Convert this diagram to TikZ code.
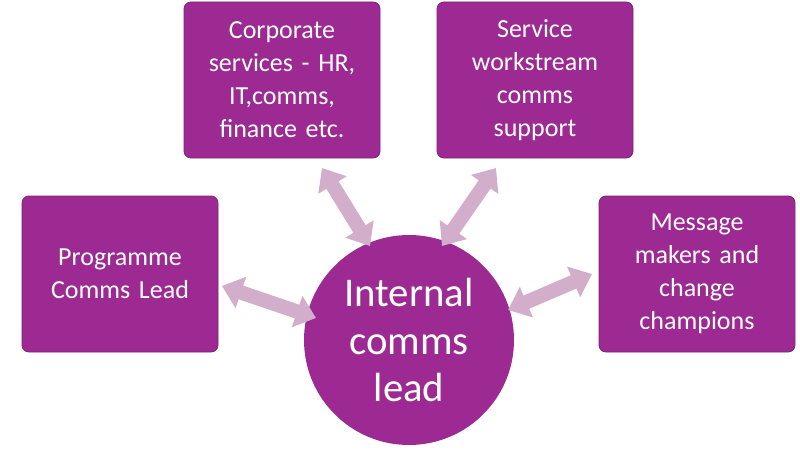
\documentclass[tikz,border=0pt]{standalone}
\usepackage{fontspec}
\setmainfont{Carlito}
\usetikzlibrary{arrows.meta}
\definecolor{plum}{HTML}{9C2A92}
\definecolor{lilac}{HTML}{D2AECB}
\begin{document}
\begin{tikzpicture}[
    box/.style={fill=plum,draw=plum!80!black,line width=0.6pt,rounded corners=5pt,
      minimum width=4.9cm,minimum height=3.9cm,text width=4.5cm,align=center,
      text=white,font=\fontsize{18.5}{23.5}\selectfont},
    hub/.style={circle,fill=plum,minimum size=5.25cm,align=center,text=white,
      font=\fontsize{29}{34}\selectfont},
    link/.style={lilac,line width=0.36cm,
      {Triangle[width=0.8cm,length=0.5cm]}-{Triangle[width=0.8cm,length=0.5cm]}}
  ]
  \useasboundingbox (0,0) rectangle (20,11.65);
  \node[hub] (lead) at (10.225,3.15) {Internal\\comms\\lead};
  \node[box] (prog) at (3.0,4.8) {Programme\\Comms Lead};
  \node[box] (corp) at (7.05,9.65) {Corporate\\services - HR,\\IT,comms,\\finance etc.};
  \node[box] (serv) at (13.375,9.65) {Service\\workstream\\comms\\support};
  \node[box] (msg) at (17.425,4.8) {Message\\makers and\\change\\champions};

  % arrow ends
  \coordinate (p1) at (5.55,4.5);   \coordinate (p2) at (7.9,3.7);
  \coordinate (c1) at (8.05,7.45);  \coordinate (c2) at (9.25,5.5);
  \coordinate (s1) at (12.4,7.45);  \coordinate (s2) at (11.05,5.5);
  \coordinate (m1) at (14.8,4.8);   \coordinate (m2) at (12.7,3.9);

  \draw[link] (p1) -- (p2);
  \draw[link] (c1) -- (c2);
  \draw[link] (s1) -- (s2);
  \draw[link] (m1) -- (m2);
\end{tikzpicture}
\end{document}
